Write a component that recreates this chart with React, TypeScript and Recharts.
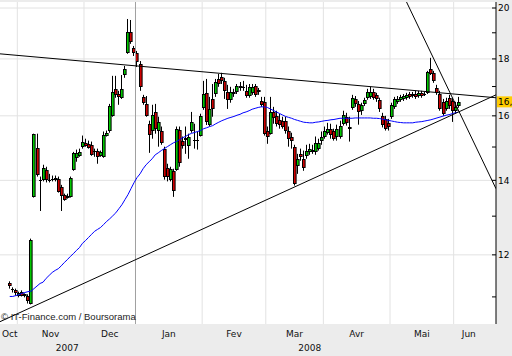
import React from 'react';
import { ComposedChart, Bar, Line, XAxis, YAxis, CartesianGrid, ReferenceLine } from 'recharts';

// ---- data (trading-day index i = 0 .. 148, 29 Oct 2007 -> early Jun 2008) ----
const open = [11.31,11.17,11.15,11.02,11.12,11.03,11.01,10.85,13.53,14.97,14.02,14.00,14.31,14.02,14.03,14.08,14.05,13.82,13.59,13.51,13.53,14.31,14.67,14.73,15.01,15.13,15.10,15.07,14.89,14.89,14.73,14.70,15.36,15.49,16.00,16.92,16.74,16.61,17.41,18.23,19.03,18.42,18.23,17.81,16.64,16.40,15.74,15.52,16.13,15.49,15.49,14.95,14.37,14.00,14.28,14.31,15.55,15.20,15.23,15.04,15.52,15.23,15.21,15.36,16.27,16.78,15.70,16.57,16.74,17.27,17.34,17.20,16.81,16.54,16.81,16.81,16.95,16.99,16.85,16.67,16.78,17.02,16.81,16.50,16.47,15.52,15.42,16.13,16.00,15.87,15.84,15.84,15.52,15.33,15.01,14.43,14.79,14.64,14.73,14.85,14.85,14.85,14.95,15.20,15.33,15.45,15.58,15.49,15.33,15.33,15.74,15.97,15.58,16.27,16.57,16.40,16.17,16.40,16.61,16.64,16.81,16.71,16.54,16.00,15.90,15.77,15.97,16.30,16.47,16.54,16.57,16.61,16.74,16.67,16.74,16.67,16.78,16.74,16.78,17.63,17.49,16.95,16.74,16.47,16.23,16.61,16.50,16.17,16.33];
const close = [11.24,11.15,11.08,11.08,11.03,11.06,10.90,12.38,15.42,14.16,14.00,14.37,14.00,14.01,14.05,14.02,13.68,13.56,13.45,13.56,14.08,14.82,14.82,14.85,15.17,15.04,14.98,14.76,14.85,14.70,14.85,15.39,15.45,16.34,16.81,16.71,16.64,16.92,17.63,19.03,18.64,18.23,17.89,16.99,16.44,16.00,15.39,16.03,15.58,15.80,15.13,14.11,14.11,14.34,13.70,15.58,14.52,15.04,15.29,15.33,15.80,15.21,15.23,16.00,16.74,15.80,16.23,16.23,17.16,17.09,17.20,16.85,16.54,16.81,16.74,17.02,17.02,16.97,16.67,16.99,16.99,16.71,16.88,16.37,15.42,15.33,16.13,15.93,15.74,15.71,15.65,15.52,15.26,15.20,13.90,14.64,14.70,14.37,14.89,14.95,14.92,15.13,15.13,15.33,15.52,15.58,15.39,15.26,15.58,15.68,16.03,15.77,15.65,16.61,16.40,16.13,16.37,16.54,16.81,16.81,16.61,16.57,16.23,15.71,15.58,15.65,16.37,16.57,16.57,16.64,16.67,16.71,16.64,16.74,16.64,16.78,16.67,16.72,17.52,17.45,17.20,16.78,16.23,16.07,16.50,16.33,16.17,16.30,16.47];
const high = [11.36,11.22,11.19,11.12,11.15,11.08,11.06,12.41,15.42,15.42,14.11,14.46,14.40,14.19,14.14,14.14,14.11,13.87,13.62,13.62,14.11,14.85,14.92,14.95,15.36,15.26,15.20,15.17,14.95,14.95,14.89,15.49,15.52,16.40,17.38,17.38,16.85,17.41,17.74,19.55,19.51,18.49,18.30,17.92,16.71,16.67,15.84,16.37,16.40,15.97,15.65,15.01,14.49,14.40,14.34,15.65,15.65,15.33,15.65,15.42,16.13,15.74,15.49,16.07,17.20,17.27,16.64,17.09,17.27,17.45,17.49,17.31,17.06,16.99,16.92,17.09,17.16,17.20,17.06,17.09,17.09,17.09,16.95,16.64,16.64,15.65,16.64,16.30,16.17,16.07,15.97,15.97,15.65,15.45,15.07,14.79,14.95,14.89,15.07,15.10,15.07,15.33,15.26,15.49,15.65,15.77,15.74,15.58,15.71,15.84,16.17,16.10,15.97,16.71,16.67,16.50,16.44,16.61,16.92,16.99,16.92,16.78,16.61,16.10,16.00,15.90,16.44,16.64,16.67,16.71,16.74,16.78,16.81,16.81,16.85,16.85,16.85,16.81,17.56,18.04,17.56,17.06,16.85,16.57,16.61,16.71,16.61,16.47,16.64];
const low = [11.19,11.10,11.03,10.99,11.01,10.99,10.85,10.83,13.51,14.11,13.14,13.97,13.94,13.94,13.97,13.97,13.65,13.14,13.42,13.48,13.51,14.28,14.55,14.70,14.95,15.01,14.95,14.73,14.70,14.49,14.70,14.67,15.33,15.45,15.97,16.61,16.37,16.57,17.31,18.19,18.57,18.11,17.70,16.85,16.37,15.97,14.82,15.26,15.42,15.01,15.07,14.02,13.97,13.97,13.53,14.28,14.40,14.95,14.79,14.64,15.45,14.95,14.92,15.33,16.20,15.70,15.65,15.97,16.64,16.99,17.09,16.57,16.23,16.44,16.64,16.74,16.85,16.85,16.61,16.61,16.71,16.64,16.71,16.30,15.36,15.10,15.39,15.74,15.65,15.58,15.58,15.42,15.01,14.95,13.85,14.19,14.58,14.28,14.64,14.76,14.79,14.76,14.89,15.07,15.26,15.39,15.26,15.20,15.20,15.26,15.68,15.68,15.17,16.20,16.30,15.71,16.03,16.33,16.54,16.57,16.54,16.47,16.13,15.62,15.52,15.52,15.90,16.23,16.40,16.47,16.50,16.54,16.57,16.61,16.57,16.61,16.61,16.67,16.74,17.41,17.13,16.71,16.17,16.00,16.17,16.23,15.80,16.07,16.27];
const movingAvg = [11.01,11.01,11.03,11.05,11.08,11.10,11.12,11.13,11.19,11.25,11.31,11.34,11.43,11.50,11.57,11.62,11.66,11.73,11.81,11.88,11.96,12.03,12.11,12.18,12.29,12.36,12.44,12.52,12.60,12.65,12.70,12.78,12.86,12.93,13.01,13.09,13.20,13.31,13.45,13.59,13.76,13.93,14.08,14.19,14.34,14.46,14.55,14.64,14.76,14.82,14.89,14.95,15.01,15.07,15.13,15.17,15.23,15.29,15.33,15.39,15.43,15.46,15.49,15.52,15.58,15.61,15.65,15.68,15.74,15.79,15.84,15.88,15.92,15.95,15.98,16.02,16.05,16.10,16.13,16.17,16.22,16.25,16.28,16.30,16.30,16.28,16.23,16.18,16.13,16.08,16.03,15.98,15.95,15.92,15.88,15.85,15.82,15.79,15.78,15.77,15.77,15.79,15.80,15.82,15.84,15.85,15.87,15.88,15.90,15.92,15.92,15.92,15.92,15.92,15.93,15.93,15.93,15.93,15.93,15.93,15.92,15.92,15.91,15.89,15.87,15.85,15.83,15.81,15.79,15.78,15.77,15.77,15.77,15.77,15.79,15.80,15.81,15.83,15.85,15.87,15.90,15.93,15.96,15.99,16.02,16.04,16.07,16.10,16.12];

const xDomain = [-3.22, 160.48];
const yDomain = [10.4, 20.25];
const monthBoundaries = [2.5, 24.5, 41.5, 63.5, 84.5, 103.5, 125.5, 146.5];
const yearBoundary = 41.5;
const monthLabels = ['Oct', 'Nov', 'Dec', 'Jan', 'Fev', 'Mar', 'Avr', 'Mai', 'Jun'];
const monthLabelPos = [0, 13.5, 33, 52.5, 74, 94, 114.5, 136, 151.5];
const yearLabels = ['2007', '2008'];
const yearLabelPos = [19, 99];
const priceTicks = [11, 12, 13, 14, 15, 16, 17, 18, 19, 20];
const gridPrices = [12, 14, 16, 18, 20];
const lastPriceLabel = '16,';

// trend lines: [startIndex, startPrice, endIndex, endPrice]
const resistanceLine = [-3.22, 18.19, 160.48, 16.61];
const supportLine = [-3.22, 10.45, 160.48, 16.71];
const steepLine = [130.8, 20.29, 160.48, 13.76];

const data = open.map((o, i) => ({
  i,
  open: o,
  close: close[i],
  high: high[i],
  low: low[i],
  range: [low[i], high[i]],
  ma: movingAvg[i],
}));

const GREEN = '#00c800';
const RED = '#d00000';

function Candle(props: any) {
  let { x, y, width, height } = props;
  const p = props.payload;
  if (x == null || y == null || !p) return null;
  if (height < 0) { y = y + height; height = -height; }
  const lh = Math.log(p.high);
  const ll = Math.log(p.low);
  const yOf = (v: number) => (lh === ll ? y : y + ((lh - Math.log(v)) / (lh - ll)) * height);
  const cx = Math.floor(x + width / 2);
  const up = p.close >= p.open;
  const top = Math.round(yOf(Math.max(p.open, p.close)));
  const bot = Math.round(yOf(Math.min(p.open, p.close)));
  const bh = bot - top;
  return (
    <g>
      <line x1={cx + 0.5} x2={cx + 0.5} y1={y} y2={y + height} stroke="#000" strokeWidth={1} />
      {bh < 2 ? (
        <line x1={cx - 1} x2={cx + 2} y1={top + 0.5} y2={top + 0.5} stroke="#000" strokeWidth={1} />
      ) : (
        <rect x={cx - 0.5} y={top + 0.5} width={2.6} height={bh - 1} fill={up ? GREEN : RED} stroke="#000" strokeWidth={1} />
      )}
    </g>
  );
}

function PriceBox(props: any) {
  const vb = props.viewBox;
  if (!vb) return null;
  const x = vb.x + vb.width + 1;
  const y = vb.y;
  return (
    <g>
      <rect x={x} y={y - 5.5} width={20} height={11} fill="#ffcc00" />
      <text x={x + 1} y={y + 3.5} fontSize={9} fill="#000" fontFamily="DejaVu Sans">{lastPriceLabel}</text>
    </g>
  );
}

const seg = (l: number[]) => [{ x: l[0], y: l[1] }, { x: l[2], y: l[3] }];

export default function App() {
  return (
    <div style={{ position: 'absolute', left: 0, top: 0, width: 512, height: 356, background: '#ececec', fontFamily: 'DejaVu Sans, Verdana, sans-serif', overflow: 'hidden' }}>
      <ComposedChart width={512} height={356} data={data} margin={{ top: 2, right: 0, bottom: 0, left: 0 }}>
        <CartesianGrid
          xAxisId="b"
          yAxisId="p"
          horizontalValues={gridPrices}
          verticalValues={monthBoundaries}
          stroke="#e2e2e2"
          fill="#ffffff"
          fillOpacity={1}
        />
        <XAxis xAxisId="t" orientation="top" type="number" dataKey="i" domain={xDomain} allowDataOverflow height={0}
          tick={false} tickLine={false} axisLine={{ stroke: '#000' }} />
        <XAxis xAxisId="b" type="number" dataKey="i" domain={xDomain} allowDataOverflow height={0}
          ticks={monthBoundaries} interval={0} tickFormatter={() => ''} tickSize={3}
          tickLine={{ stroke: '#000' }} axisLine={{ stroke: '#000' }} />
        <XAxis xAxisId="m" type="number" dataKey="i" domain={xDomain} allowDataOverflow height={16}
          ticks={monthLabelPos} interval={0} axisLine={false} tickLine={false} tickSize={0} tickMargin={7}
          tickFormatter={(v: number) => monthLabels[monthLabelPos.indexOf(v)] ?? ''}
          tick={{ fontSize: 9, fill: '#111' }} />
        <XAxis xAxisId="y" type="number" dataKey="i" domain={xDomain} allowDataOverflow height={16}
          ticks={yearLabelPos} interval={0} axisLine={false} tickLine={false} tickSize={0} tickMargin={5}
          tickFormatter={(v: number) => yearLabels[yearLabelPos.indexOf(v)] ?? ''}
          tick={{ fontSize: 9, fill: '#111' }} />
        <YAxis yAxisId="p" orientation="right" width={16} scale="log" domain={yDomain} allowDataOverflow
          ticks={priceTicks} interval={0} tickSize={-4} tickMargin={6}
          tickFormatter={(v: number) => (v % 2 === 0 ? String(v) : '')}
          tick={{ fontSize: 9, fill: '#000' }} tickLine={{ stroke: '#000' }} axisLine={{ stroke: '#000' }} />
        <ReferenceLine xAxisId="b" yAxisId="p" x={yearBoundary} stroke="#a0a0a0" />
        <Bar xAxisId="b" yAxisId="p" dataKey="range" barSize={3} shape={<Candle />} isAnimationActive={false} />
        <Line xAxisId="b" yAxisId="p" dataKey="ma" stroke="#0000ff" strokeWidth={1} dot={false} activeDot={false} isAnimationActive={false} />
        <ReferenceLine xAxisId="b" yAxisId="p" segment={seg(resistanceLine)} stroke="#000" ifOverflow="hidden" />
        <ReferenceLine xAxisId="b" yAxisId="p" segment={seg(supportLine)} stroke="#000" ifOverflow="hidden" />
        <ReferenceLine xAxisId="b" yAxisId="p" segment={seg(steepLine)} stroke="#000" ifOverflow="hidden" />
        <ReferenceLine xAxisId="b" yAxisId="p" y={close[close.length - 1]} stroke="none" label={<PriceBox />} />
      </ComposedChart>
      <div style={{ position: 'absolute', left: 1, top: 312, fontSize: 9.5, lineHeight: '10px', fontFamily: 'Liberation Sans, Arial, sans-serif', color: '#222', whiteSpace: 'nowrap' }}>
        © IT-Finance.com / Boursorama
      </div>
    </div>
  );
}
